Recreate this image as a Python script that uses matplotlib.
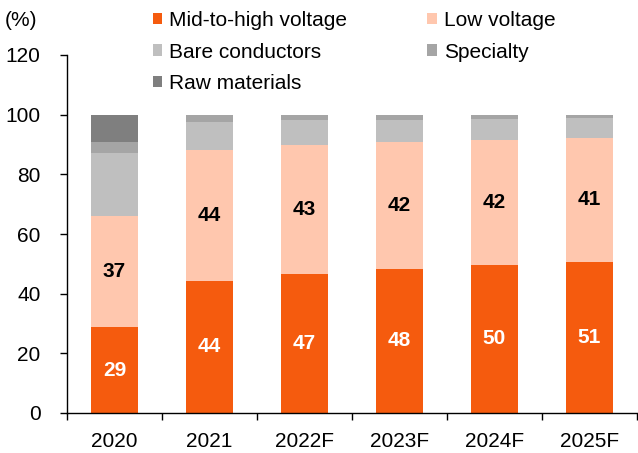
import matplotlib
matplotlib.use("Agg")
import matplotlib.pyplot as plt
import numpy as np

categories = ["2020", "2021", "2022F", "2023F", "2024F", "2025F"]
mid_high = [28.7, 44.3, 46.6, 48.3, 49.7, 50.7]
low_volt = [37.3, 44.0, 43.2, 42.4, 41.9, 41.4]
bare = [21.0, 9.2, 8.4, 7.4, 7.0, 6.8]
specialty = [4.0, 2.5, 1.8, 1.9, 1.4, 1.1]
raw = [9.0, 0.0, 0.0, 0.0, 0.0, 0.0]

series = [
    ("Mid-to-high voltage", mid_high, "#F55B0E"),
    ("Low voltage", low_volt, "#FFC7AE"),
    ("Bare conductors", bare, "#BFBFBF"),
    ("Specialty", specialty, "#A5A5A5"),
    ("Raw materials", raw, "#7F7F7F"),
]

FS = 15
plt.rcParams["font.family"] = ["Liberation Sans", "DejaVu Sans"]
fig = plt.figure(figsize=(6.38, 4.53), dpi=100)
ax = fig.add_axes([67 / 638, 40 / 453, 570 / 638, 358 / 453])

x = np.arange(len(categories))
bottom = np.zeros(len(categories))
handles = {}
for name, vals, col in series:
    v = np.array(vals)
    b = ax.bar(x, v, 0.5, bottom=bottom, color=col, label=name, linewidth=0)
    handles[name] = b
    bottom = bottom + v

for i in range(len(categories)):
    ax.text(x[i], mid_high[i] / 2, f"{round(mid_high[i])}", ha="center", va="center",
            color="white", fontsize=FS, fontweight="bold")
    ax.text(x[i], mid_high[i] + low_volt[i] / 2, f"{round(low_volt[i])}", ha="center",
            va="center", color="black", fontsize=FS, fontweight="bold")

ax.set_xlim(-0.5, len(categories) - 0.5)
ax.set_ylim(0, 120)
ax.set_yticks(np.arange(0, 121, 20))
ax.set_xticks(np.arange(-0.5, len(categories), 1.0))
ax.set_xticklabels([])
ax.set_xticks(x, minor=True)
ax.set_xticklabels(categories, minor=True)
ax.tick_params(axis="x", which="minor", length=0, pad=14, labelsize=FS)
ax.tick_params(axis="x", which="major", length=5, direction="out", width=1)
ax.tick_params(axis="y", length=5, direction="out", width=1, labelsize=FS, pad=14)
for s in ["top", "right"]:
    ax.spines[s].set_visible(False)
ax.spines["left"].set_linewidth(1)
ax.spines["bottom"].set_linewidth(1)

fig.text(5 / 638, 1 - 21 / 453, "(%)", fontsize=FS, va="center", ha="left")

# row-major ordering for a 2-column legend
order = ["Mid-to-high voltage", "Bare conductors", "Raw materials", "Low voltage", "Specialty"]
leg = fig.legend([handles[n] for n in order], order, ncol=2, loc="upper left",
                 bbox_to_anchor=(153 / 638, 1 - 11 / 453), bbox_transform=fig.transFigure,
                 frameon=False, fontsize=FS, handlelength=0.45, handleheight=0.45,
                 handletextpad=0.33, columnspacing=3.85, labelspacing=0.6,
                 borderpad=0, borderaxespad=0)

fig.savefig("out.png", dpi=100)
